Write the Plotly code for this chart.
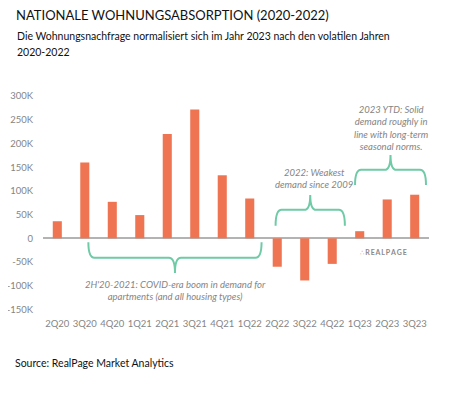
import plotly.graph_objects as go

quarters = ["2Q20", "3Q20", "4Q20", "1Q21", "2Q21", "3Q21", "4Q21",
            "1Q22", "2Q22", "3Q22", "4Q22", "1Q23", "2Q23", "3Q23"]
absorption = [36000, 160000, 77000, 49000, 220000, 272000, 133000,
              84000, -60000, -89000, -54000, 15000, 82000, 92000]
y_tick_vals = [300000, 250000, 200000, 150000, 100000, 50000, 0,
               -50000, -100000, -150000]
y_tick_text = ["300K", "250K", "200K", "150K", "100K", "50K", "0",
               "-50K", "-100K", "-150K"]

# page has an 8px body margin: figure origin sits at (8, 8) of the window
OFF = 8
W, H = 467 - 2 * OFF, 394 - 2 * OFF
PL, PR, PT, PB = 43, 429, 90, 316          # plot area in window pixels
ML, MR, MT, MB = PL - OFF, W - (PR - OFF), PT - OFF, H - (PB - OFF)
PW, PH = PR - PL, PB - PT

def px_x(p):
    return (p - PL) / PW

def px_y(p):
    return 1 - (p - PT) / PH

BAR = "#ef7452"
BRACE = "#6fcaa6"
GRAY_TXT = "#858585"

x_idx = list(range(len(quarters)))

fig = go.Figure(go.Bar(x=x_idx, y=absorption, marker_color=BAR,
                       marker_line_width=0, width=0.33))

def brace(x0, x1, yb, yh, yt, rx=0.22):
    xm = (x0 + x1) / 2
    return (f"M {x0},{yb} Q {x0},{yh} {x0+rx},{yh} L {xm-rx},{yh} "
            f"Q {xm},{yh} {xm},{yt} Q {xm},{yh} {xm+rx},{yh} "
            f"L {x1-rx},{yh} Q {x1},{yh} {x1},{yb}")

shapes = [
    dict(type="path", xref="x", yref="y",
         path=brace(1.13, 7.43, -8500, -41000, -73000),
         line=dict(color=BRACE, width=2)),
    dict(type="path", xref="x", yref="y",
         path=brace(7.94, 10.46, 26500, 60000, 91500),
         line=dict(color=BRACE, width=2)),
    dict(type="path", xref="x", yref="y",
         path=brace(10.83, 13.41, 112500, 144500, 176000),
         line=dict(color=BRACE, width=2)),
]

ann_font = dict(family="Lato", size=9.5, color=GRAY_TXT)
annotations = [
    dict(xref="x", yref="y", x=4.29, y=-109500, showarrow=False,
         text="<i>2H'20-2021: COVID-era boom in demand for<br>apartments (and all housing types)</i>",
         font=ann_font, align="center"),
    dict(xref="x", yref="y", x=9.32, y=126000, showarrow=False,
         text="<i>2022: Weakest<br>demand since 2009</i>",
         font=ann_font, align="center"),
    dict(xref="x", yref="y", x=12.16, y=233500, showarrow=False,
         text="<i>2023 YTD: Solid<br>demand roughly in<br>line with long-term<br>seasonal norms.</i>",
         font=ann_font, align="center"),
    dict(xref="x", yref="y", x=11.86, y=-31000, showarrow=False,
         text="<span style='color:#ef7452;font-family:DejaVu Sans'>∴</span><b>\u2009R\u2009E\u2009A\u2009L\u2009P\u2009A\u2009G\u2009E</b>",
         font=dict(family="Lato", size=7, color="#8a8a8a")),
    dict(xref="paper", yref="paper", x=px_x(14), y=px_y(15), xanchor="left",
         yanchor="middle", showarrow=False,
         text="NATIONALE WOHNUNGSABSORPTION (2020-2022)",
         font=dict(family="Lato", size=13, color="#111111")),
    dict(xref="paper", yref="paper", x=px_x(15), y=px_y(36), xanchor="left",
         yanchor="middle", showarrow=False, align="left",
         text="Die Wohnungsnachfrage normalisiert sich im Jahr 2023 nach den volatilen Jahren",
         font=dict(family="Lato", size=10.5, color="#111111")),
    dict(xref="paper", yref="paper", x=px_x(15), y=px_y(52), xanchor="left",
         yanchor="middle", showarrow=False, align="left",
         text="2020-2022",
         font=dict(family="Lato", size=10.5, color="#111111")),
    dict(xref="paper", yref="paper", x=px_x(13), y=px_y(363), xanchor="left",
         yanchor="middle", showarrow=False,
         text="Source: RealPage Market Analytics",
         font=dict(family="Lato", size=10.5, color="#111111")),
]

fig.update_layout(
    width=W, height=H,
    margin=dict(l=ML, r=MR, t=MT, b=MB, pad=0, autoexpand=False),
    paper_bgcolor="white", plot_bgcolor="white",
    showlegend=False,
    shapes=shapes, annotations=annotations,
    xaxis=dict(range=[-0.52, 13.52], tickvals=x_idx, ticktext=quarters,
               showgrid=False, zeroline=False, showline=False, automargin=False,
               ticks="", tickfont=dict(family="Lato", size=9.5, color=GRAY_TXT)),
    yaxis=dict(range=[-164000, 313000], tickvals=y_tick_vals, ticktext=y_tick_text,
               showgrid=False, zeroline=True, zerolinecolor="#b3b3b3",
               zerolinewidth=1.5, showline=False, ticks="", automargin=False,
               ticklabelstandoff=9,
               tickfont=dict(family="Lato", size=9.5, color=GRAY_TXT)),
)

fig.write_html("out.html")
